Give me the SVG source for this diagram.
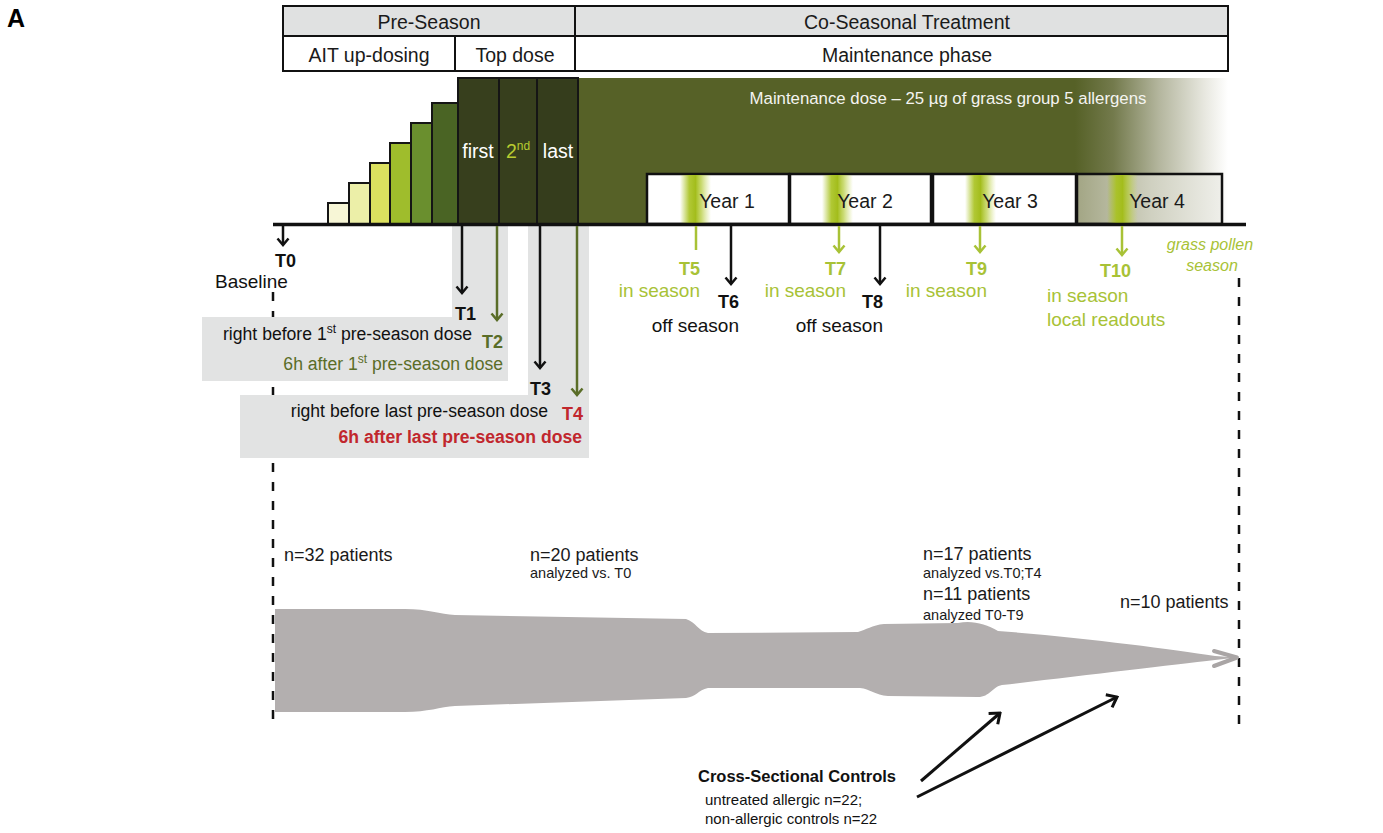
<svg xmlns="http://www.w3.org/2000/svg" width="1383" height="833" viewBox="0 0 1383 833">
<defs>
<style>
text{font-family:"Liberation Sans",Arial,sans-serif;}
.hdr{font-size:19.5px;fill:#1a1a1a;text-anchor:middle;}
.yr{font-size:19.5px;fill:#1a1a1a;text-anchor:middle;}
.tb{font-size:18px;font-weight:bold;}
.lbl{font-size:19px;}
.sm{font-size:17.6px;}
.pt{font-size:18px;fill:#1a1a1a;}
.an{font-size:14.5px;fill:#1a1a1a;}
.k{fill:#111;}
.ol{fill:#5a6d28;}
.li{fill:#a8c236;}
.rd{fill:#c1272d;}
.ak{stroke:#111;stroke-width:2.5;fill:none;}
.ao{stroke:#5a6d28;stroke-width:2.5;fill:none;}
.al{stroke:#a8c236;stroke-width:2.5;fill:none;}
.grey{fill:#e2e3e3;}
.step{stroke:#151515;stroke-width:2;}
.ybox{stroke:#111;stroke-width:2.5;}
.dash{stroke:#111;stroke-width:2.5;stroke-dasharray:9 10;fill:none;}
</style>
<marker id="mk" viewBox="-8 -7 10 14" refX="0" refY="0" markerWidth="10" markerHeight="14" markerUnits="userSpaceOnUse" orient="auto"><path d="M-6.5,-5.5 L0,0 L-6.5,5.5" fill="none" stroke="#111" stroke-width="2.5"/></marker>
<marker id="mo" viewBox="-8 -7 10 14" refX="0" refY="0" markerWidth="10" markerHeight="14" markerUnits="userSpaceOnUse" orient="auto"><path d="M-6.5,-5.5 L0,0 L-6.5,5.5" fill="none" stroke="#5a6d28" stroke-width="2.5"/></marker>
<marker id="ml" viewBox="-8 -7 10 14" refX="0" refY="0" markerWidth="10" markerHeight="14" markerUnits="userSpaceOnUse" orient="auto"><path d="M-6.5,-5.5 L0,0 L-6.5,5.5" fill="none" stroke="#a8c236" stroke-width="2.5"/></marker>
<marker id="mb" viewBox="-12 -9 14 18" refX="0" refY="0" markerWidth="14" markerHeight="18" markerUnits="userSpaceOnUse" orient="auto"><path d="M-9,-7 L0,0 L-9,7" fill="none" stroke="#111" stroke-width="3"/></marker>
<linearGradient id="band" gradientUnits="userSpaceOnUse" x1="1075" y1="0" x2="1228" y2="0">
<stop offset="0" stop-color="#566127"/><stop offset="0.25" stop-color="#737a4c"/><stop offset="0.55" stop-color="#b4b69e"/><stop offset="0.85" stop-color="#e8e8e0"/><stop offset="1" stop-color="#ffffff"/>
</linearGradient>
<linearGradient id="y4" gradientUnits="userSpaceOnUse" x1="1078" y1="0" x2="1222" y2="0">
<stop offset="0" stop-color="#a3a685"/><stop offset="0.5" stop-color="#cfd0c0"/><stop offset="1" stop-color="#efefea"/>
</linearGradient>
<linearGradient id="stripe" x1="0" y1="0" x2="1" y2="0">
<stop offset="0" stop-color="#a8c21e" stop-opacity="0"/><stop offset="0.3" stop-color="#a8c21e" stop-opacity="0.9"/><stop offset="0.5" stop-color="#a3bd1c" stop-opacity="1"/><stop offset="0.7" stop-color="#b5cc3a" stop-opacity="0.7"/><stop offset="1" stop-color="#c8d860" stop-opacity="0"/>
</linearGradient>
</defs>
<rect width="1383" height="833" fill="#ffffff"/>

<text x="7" y="27" style="font-size:25px;font-weight:bold;fill:#000">A</text>

<g id="header">
<rect x="283" y="6" width="945" height="30" fill="#e0e1e1" stroke="#111" stroke-width="2"/>
<rect x="283" y="36" width="945" height="35" fill="#ffffff" stroke="#111" stroke-width="2"/>
<line x1="575" y1="6" x2="575" y2="71" stroke="#111" stroke-width="2"/>
<line x1="455" y1="36" x2="455" y2="71" stroke="#111" stroke-width="2"/>
<text class="hdr" x="429" y="29">Pre-Season</text>
<text class="hdr" x="907" y="29">Co-Seasonal Treatment</text>
<text class="hdr" x="369" y="62">AIT up-dosing</text>
<text class="hdr" x="515" y="62">Top dose</text>
<text class="hdr" x="907" y="62">Maintenance phase</text>
</g>

<g id="dose-band">
<rect x="578" y="78" width="650" height="146" fill="url(#band)"/>
<text x="948" y="104" style="font-size:16.8px;fill:#f4f4f0;text-anchor:middle">Maintenance dose – 25 µg of grass group 5 allergens</text>
</g>

<g id="updosing">
<rect class="step" x="328" y="203" width="21" height="21" fill="#f7f6d6"/>
<rect class="step" x="349" y="183" width="21" height="41" fill="#ecefa8"/>
<rect class="step" x="370" y="163" width="20" height="61" fill="#dce15f"/>
<rect class="step" x="390" y="143" width="21" height="81" fill="#9fbd2c"/>
<rect class="step" x="411" y="123" width="21" height="101" fill="#6a8f2e"/>
<rect class="step" x="432" y="103" width="26" height="121" fill="#4a6424"/>
</g>

<g id="topdose">
<rect class="step" x="458" y="78" width="41" height="146" fill="#373f1d"/>
<rect class="step" x="499" y="78" width="38" height="146" fill="#373f1d"/>
<rect class="step" x="537" y="78" width="41" height="146" fill="#353d1c"/>
<text x="478" y="158" style="font-size:19.5px;fill:#ffffff;text-anchor:middle">first</text>
<text x="506" y="158" style="font-size:19.5px;fill:#b8cc30">2<tspan dy="-8" style="font-size:12px">nd</tspan></text>
<text x="558" y="158" style="font-size:19.5px;fill:#ffffff;text-anchor:middle">last</text>
</g>

<g id="years">
<rect class="ybox" x="647" y="174" width="142" height="50" fill="#ffffff"/>
<rect x="680" y="175" width="31" height="48" fill="url(#stripe)"/>
<text class="yr" x="727" y="208">Year 1</text>
<rect class="ybox" x="790" y="174" width="141" height="50" fill="#ffffff"/>
<rect x="822" y="175" width="31" height="48" fill="url(#stripe)"/>
<text class="yr" x="865" y="208">Year 2</text>
<rect class="ybox" x="933" y="174" width="143" height="50" fill="#ffffff"/>
<rect x="965" y="175" width="31" height="48" fill="url(#stripe)"/>
<text class="yr" x="1010" y="208">Year 3</text>
<rect class="ybox" x="1077" y="174" width="145" height="50" fill="url(#y4)"/>
<rect x="1107" y="175" width="31" height="48" fill="url(#stripe)"/>
<text class="yr" x="1157" y="208">Year 4</text>
</g>

<g id="dashes">
<line class="dash" x1="273" y1="292" x2="273" y2="726"/>
<line class="dash" x1="1239" y1="278" x2="1239" y2="726"/>
</g>

<g id="grey-boxes">
<polygon class="grey" points="452,226 508,226 508,381 202,381 202,317 452,317"/>
<polygon class="grey" points="528,226 589,226 589,458 240,458 240,395 528,395"/>
</g>

<line id="axis" x1="273" y1="224.5" x2="1246" y2="224.5" stroke="#111" stroke-width="3.5"/>

<g id="connectors">
<line class="ak" x1="283" y1="226" x2="283" y2="245" marker-end="url(#mk)"/>
<line class="ak" x1="462" y1="226" x2="462" y2="293" marker-end="url(#mk)"/>
<line class="ao" x1="497" y1="226" x2="497" y2="320" marker-end="url(#mo)"/>
<line class="ak" x1="540" y1="226" x2="540" y2="368" marker-end="url(#mk)"/>
<line class="ao" x1="577" y1="226" x2="577" y2="395" marker-end="url(#mo)"/>
<line class="al" x1="696" y1="226" x2="696" y2="250"/>
<line class="ak" x1="731" y1="226" x2="731" y2="284" marker-end="url(#mk)"/>
<line class="al" x1="839" y1="226" x2="839" y2="252" marker-end="url(#ml)"/>
<line class="ak" x1="880" y1="226" x2="880" y2="284" marker-end="url(#mk)"/>
<line class="al" x1="980" y1="226" x2="980" y2="252" marker-end="url(#ml)"/>
<line class="al" x1="1122" y1="226" x2="1122" y2="255" marker-end="url(#ml)"/>
<line x1="921" y1="781" x2="1000" y2="713" stroke="#111" stroke-width="3" marker-end="url(#mb)"/>
<line x1="917" y1="797" x2="1117" y2="697" stroke="#111" stroke-width="3" marker-end="url(#mb)"/>
</g>

<g id="t0"><text class="tb k" x="275" y="267">T0</text><text class="lbl k" x="215" y="288">Baseline</text></g>
<g id="t1"><text class="tb k" x="455" y="320">T1</text><text class="sm k" x="472" y="340" text-anchor="end">right before 1<tspan dy="-7" style="font-size:12px">st</tspan><tspan dy="7"> pre-season dose</tspan></text></g>
<g id="t2"><text class="tb ol" x="482" y="348">T2</text><text class="sm ol" x="503" y="370" text-anchor="end">6h after 1<tspan dy="-7" style="font-size:12px">st</tspan><tspan dy="7"> pre-season dose</tspan></text></g>
<g id="t3"><text class="tb k" x="530" y="395">T3</text><text class="sm k" x="548" y="417" text-anchor="end">right before last pre-season dose</text></g>
<g id="t4"><text class="tb rd" x="562" y="420">T4</text><text class="sm rd" x="582" y="443" text-anchor="end" style="font-weight:bold">6h after last pre-season dose</text></g>
<g id="t5"><text class="tb li" x="700" y="275" text-anchor="end">T5</text><text class="lbl li" x="700" y="297" text-anchor="end">in season</text></g>
<g id="t6"><text class="tb k" x="718" y="308">T6</text><text class="lbl k" x="739" y="332" text-anchor="end">off season</text></g>
<g id="t7"><text class="tb li" x="846" y="275" text-anchor="end">T7</text><text class="lbl li" x="846" y="297" text-anchor="end">in season</text></g>
<g id="t8"><text class="tb k" x="862" y="308">T8</text><text class="lbl k" x="883" y="332" text-anchor="end">off season</text></g>
<g id="t9"><text class="tb li" x="987" y="275" text-anchor="end">T9</text><text class="lbl li" x="987" y="297" text-anchor="end">in season</text></g>
<g id="t10"><text class="tb li" x="1100" y="277">T10</text><text class="lbl li" x="1047" y="302">in season</text><text class="lbl li" x="1047" y="326">local readouts</text></g>
<g id="season-label"><text class="li" x="1210" y="250" style="font-size:16px;font-style:italic;text-anchor:middle">grass pollen</text><text class="li" x="1212" y="271" style="font-size:16px;font-style:italic;text-anchor:middle">season</text></g>

<g id="cohort-flow">
<path fill="#b3afaf" d="M275,609 L405,609 C428,609 440,614 455,615 L686,619 C696,622 698,631 708,633 L858,632 C866,630 872,625 884,624 L958,623 C972,620 986,624 998,631 C1080,637 1170,649 1215,656 L1237,657.5 L1215,660 C1170,665 1080,676 1002,685 C992,687 990,697 978,697 L888,696 C875,695 870,689 860,688 L708,688 C698,690 696,697 686,698 L455,706 C440,707 428,712 405,712 L275,712 Z"/>
<polyline points="1214,651 1237,657.5 1214,666" fill="none" stroke="#a9a5a5" stroke-width="4" stroke-linecap="round" stroke-linejoin="round"/>
</g>

<g id="cohort-labels">
<text class="pt" x="284" y="561">n=32 patients</text>
<text class="pt" x="530" y="561">n=20 patients</text>
<text class="an" x="530" y="578">analyzed vs. T0</text>
<text class="pt" x="923" y="560">n=17 patients</text>
<text class="an" x="923" y="578">analyzed vs.T0;T4</text>
<text class="pt" x="923" y="600">n=11 patients</text>
<text class="an" x="923" y="620">analyzed T0-T9</text>
<text class="pt" x="1120" y="608">n=10 patients</text>
</g>

<g id="controls">
<text x="698" y="782" style="font-size:16.5px;font-weight:bold;fill:#111">Cross-Sectional Controls</text>
<text x="705" y="805" style="font-size:15px;fill:#111">untreated allergic n=22;</text>
<text x="705" y="824" style="font-size:15px;fill:#111">non-allergic controls n=22</text>
</g>
</svg>
